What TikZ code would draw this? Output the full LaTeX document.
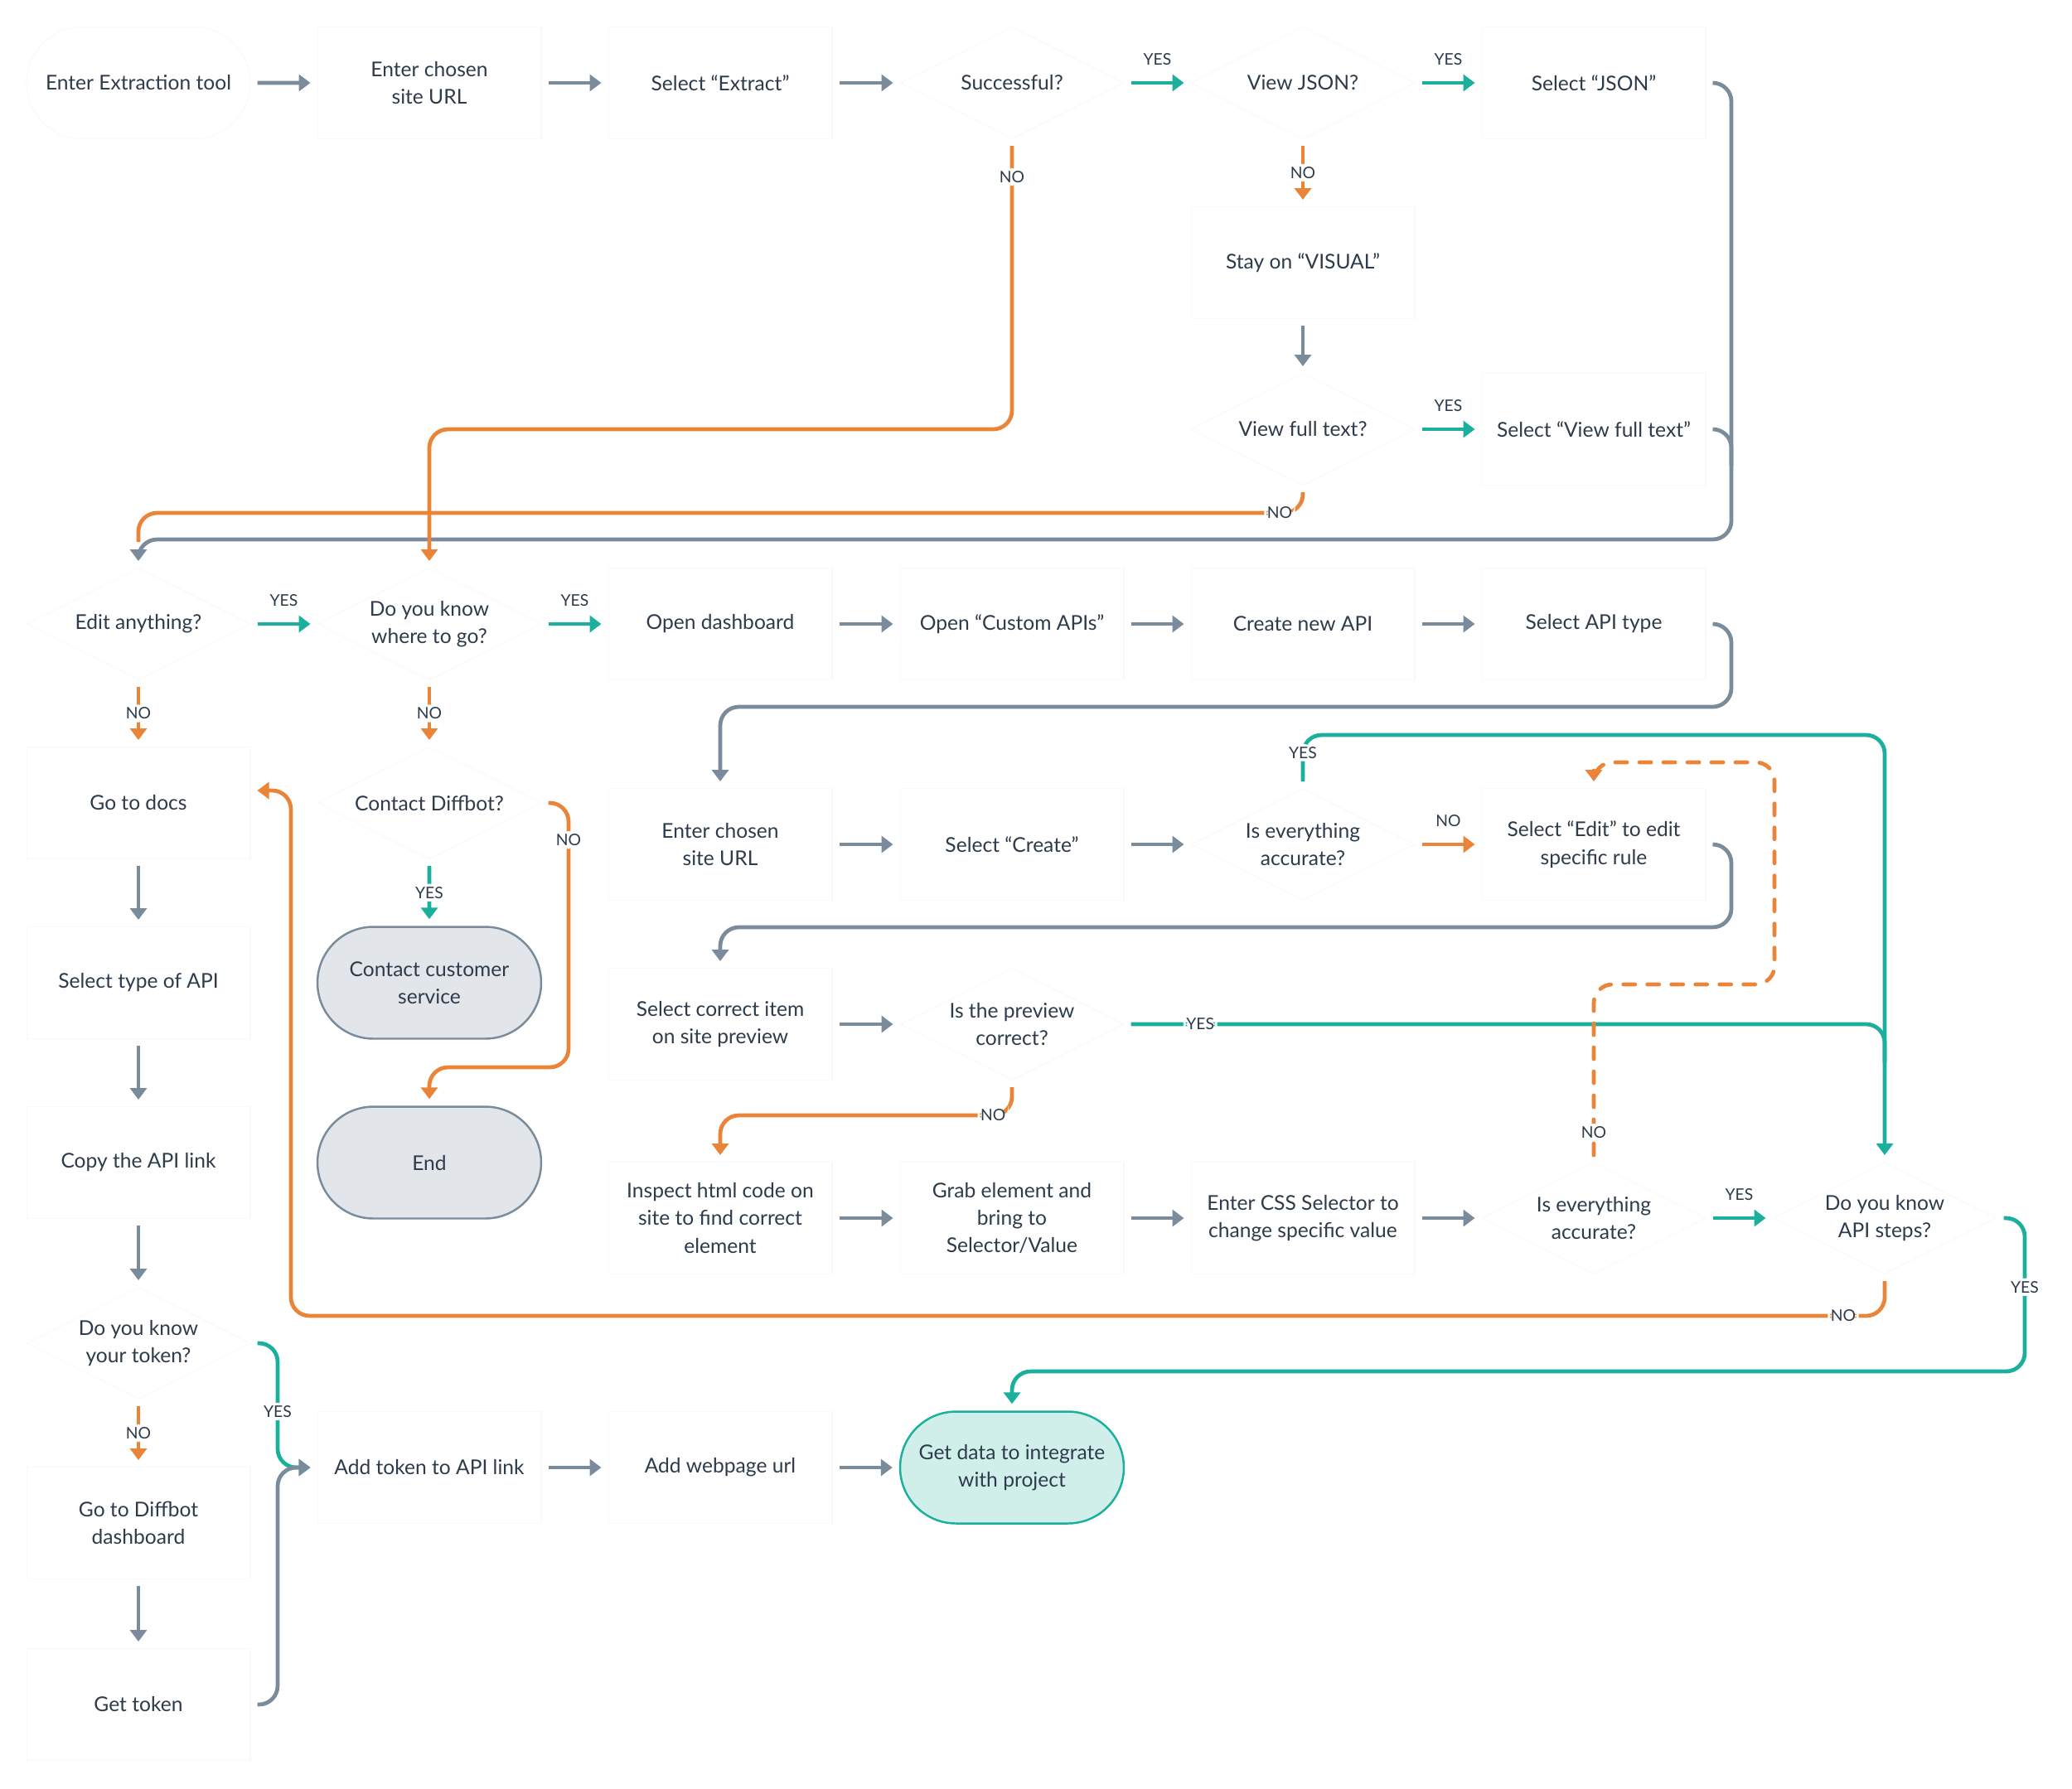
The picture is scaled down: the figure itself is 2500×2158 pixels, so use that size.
\documentclass[tikz,border=0pt]{standalone}
\usepackage{fontspec}
\setmainfont{Lato}
\usepackage{tikz}
\usetikzlibrary{positioning,arrows.meta,shapes.geometric,shapes.misc}

\definecolor{ink}{HTML}{2D3B4B}
\definecolor{slate}{HTML}{7A8B9C}
\definecolor{yesteal}{HTML}{1BAF9E}
\definecolor{noorange}{HTML}{EA8439}
\definecolor{endgrey}{HTML}{E2E6EA}
\definecolor{datafill}{HTML}{D0EEEA}
\definecolor{faint}{HTML}{F8F9FA}

\begin{document}
\begin{tikzpicture}[
    x=0.02cm, y=-0.02cm,
    >={Triangle[length=0.28cm,width=0.4cm]},
    every node/.style={text=ink},
    txt/.style={font=\fontsize{14}{19}\selectfont, align=center},
    box/.style={txt, rectangle, draw=faint, line width=0.6pt, fill=white, minimum width=5.4cm, minimum height=2.7cm, inner sep=0pt},
    ask/.style={txt, diamond, aspect=2, draw=faint, line width=0.6pt, fill=white, minimum width=5.4cm, minimum height=2.7cm, inner sep=0pt},
    term/.style={txt, rounded rectangle, draw=faint, line width=0.6pt, fill=white, minimum width=5.4cm, minimum height=2.7cm, inner sep=0pt},
    termgrey/.style={term, draw=slate, fill=endgrey, line width=1.4pt},
    termteal/.style={term, draw=yesteal, fill=datafill, line width=1.4pt},
    flow/.style={->, draw=slate, line width=2.7pt, shorten <=0.16cm, shorten >=0.16cm, rounded corners=0.45cm},
    yes/.style={flow, draw=yesteal},
    no/.style={flow, draw=noorange},
    lbl/.style={font=\fontsize{11}{12}\selectfont, fill=white, inner sep=2pt}
]
% Column positions (px of the sheet)
\def\colA{167}
\def\colB{518}
\def\colC{869}
\def\colD{1221}
\def\colE{1572}
\def\colF{1923}
\def\colG{2274}
\def\rail{2089}

\fill[white] (0,0) rectangle (2500,2158);
\useasboundingbox (0,0) rectangle (2500,2158);

% === Row 1: extraction ===
\node[term] (start) at (\colA,100) {Enter Extraction tool};
\node[box] (url1) at (\colB,100) {Enter chosen\\site URL};
\node[box] (extract) at (\colC,100) {Select ``Extract''};
\node[ask] (success) at (\colD,100) {Successful?};
\node[ask] (json) at (\colE,100) {View JSON?};
\node[box] (seljson) at (\colF,100) {Select ``JSON''};
\node[box] (visual) at (\colE,317) {Stay on ``VISUAL''};
\node[ask] (fulltext) at (\colE,518) {View full text?};
\node[box] (selfull) at (\colF,518) {Select ``View full text''};

% === Row 2: edit / dashboard ===
\node[ask] (edit) at (\colA,753) {Edit anything?};
\node[ask] (where) at (\colB,753) {Do you know\\where to go?};
\node[box] (dash) at (\colC,753) {Open dashboard};
\node[box] (capis) at (\colD,753) {Open ``Custom APIs''};
\node[box] (newapi) at (\colE,753) {Create new API};
\node[box] (apitype) at (\colF,753) {Select API type};

% === Left column: docs and token ===
\node[box] (docs) at (\colA,969) {Go to docs};
\node[box] (seltype) at (\colA,1186) {Select type of API};
\node[box] (copy) at (\colA,1403) {Copy the API link};
\node[ask] (token) at (\colA,1621) {Do you know\\your token?};
\node[box] (diffdash) at (\colA,1838) {Go to Diffbot\\dashboard};
\node[box] (gettoken) at (\colA,2057) {Get token};

% === Middle column: contact ===
\node[ask] (contact) at (\colB,969) {Contact Diffbot?};
\node[termgrey] (service) at (\colB,1186) {Contact customer\\service};
\node[termgrey] (theend) at (\colB,1403) {End};

% === Custom API rows ===
\node[box] (url2) at (\colC,1019) {Enter chosen\\site URL};
\node[box] (create) at (\colD,1019) {Select ``Create''};
\node[ask] (acc1) at (\colE,1019) {Is everything\\accurate?};
\node[box] (editrule) at (\colF,1019) {Select ``Edit'' to edit\\specific rule};

\node[box] (pick) at (\colC,1236) {Select correct item\\on site preview};
\node[ask] (preview) at (\colD,1236) {Is the preview\\correct?};

\node[box] (inspect) at (\colC,1470) {Inspect html code on\\site to find correct\\element};
\node[box] (grab) at (\colD,1470) {Grab element and\\bring to\\Selector/Value};
\node[box] (css) at (\colE,1470) {Enter CSS Selector to\\change specific value};
\node[ask] (acc2) at (\colF,1470) {Is everything\\accurate?};
\node[ask] (steps) at (\colG,1470) {Do you know\\API steps?};

% === Bottom row ===
\node[box] (addtoken) at (\colB,1771) {Add token to API link};
\node[box] (addurl) at (\colC,1771) {Add webpage url};
\node[termteal] (getdata) at (\colD,1771) {Get data to integrate\\with project};

% Row 1 connectors
\draw[flow] (start) -- (url1);
\draw[flow] (url1) -- (extract);
\draw[flow] (extract) -- (success);
\draw[yes] (success) -- node[lbl, yshift=0.56cm] {YES} (json);
\draw[yes] (json) -- node[lbl, yshift=0.56cm] {YES} (seljson);
\draw[no] (json) -- node[lbl] {NO} (visual);
\draw[flow] (visual) -- (fulltext);
\draw[yes] (fulltext) -- node[lbl, yshift=0.56cm] {YES} (selfull);

% Back to "Edit anything?"
\draw[flow] (seljson.east) -- (\rail,100) -- (\rail,651) -| (edit.north);
\draw[flow, -] (selfull.east) -- (\rail,518) -- (\rail,570);
\draw[no, -] (fulltext.south) -- (\colE,619) -- node[lbl, pos=0.02] {NO} (\colA,619) -- (\colA,662);
\draw[no] (success.south) -- node[lbl, pos=0.13] {NO} (\colD,518) -| (where.north);

% Row 2 connectors
\draw[yes] (edit) -- node[lbl, yshift=0.56cm] {YES} (where);
\draw[yes] (where) -- node[lbl, yshift=0.56cm] {YES} (dash);
\draw[flow] (dash) -- (capis);
\draw[flow] (capis) -- (newapi);
\draw[flow] (newapi) -- (apitype);
\draw[flow] (apitype.east) -- (\rail,753) -- (\rail,853) -| (url2.north);
\draw[no] (edit) -- node[lbl] {NO} (docs);
\draw[no] (where) -- node[lbl] {NO} (contact);

% Contact branch
\draw[yes] (contact) -- node[lbl] {YES} (service);
\draw[no] (contact.east) -- (686,969) -- node[lbl, pos=0.14] {NO} (686,1288) -| (theend.north);

% Left column
\draw[flow] (docs) -- (seltype);
\draw[flow] (seltype) -- (copy);
\draw[flow] (copy) -- (token);
\draw[no] (token) -- node[lbl] {NO} (diffdash);
\draw[flow] (diffdash) -- (gettoken);
\draw[yes] (token.east) -- (335,1621) -- node[lbl, pos=0.55] {YES} (335,1771) -- (addtoken.west);
\draw[flow] (gettoken.east) -- (335,2057) -- (335,1771) -- (addtoken.west);

% Custom API rows
\draw[flow] (url2) -- (create);
\draw[flow] (create) -- (acc1);
\draw[no] (acc1) -- node[lbl, yshift=0.56cm] {NO} (editrule);
\draw[yes] (acc1.north) -- node[lbl, pos=0.67] {YES} (\colE,887) -| (steps.north);
\draw[flow] (editrule.east) -- (\rail,1019) -- (\rail,1119) -| (pick.north);

\draw[flow] (pick) -- (preview);
\draw[yes, -] (preview.east) -- node[lbl, pos=0.1] {YES} (\colG,1236) -- (\colG,1290);
\draw[no] (preview.south) -- (\colD,1346) -- node[lbl, pos=0.065] {NO} (\colC,1346) -- (inspect.north);

\draw[flow] (inspect) -- (grab);
\draw[flow] (grab) -- (css);
\draw[flow] (css) -- (acc2);
\draw[yes] (acc2) -- node[lbl, yshift=0.56cm] {YES} (steps);
\draw[no, dash pattern=on 0.28cm off 0.3cm, line cap=round] (acc2.north) -- node[lbl, pos=0.165] {NO} (\colF,1188) -- (2141,1188) -- (2141,920) -- (\colF,920) -- (editrule.north);
\draw[no] (steps.south) -- (\colG,1588) -- node[lbl, pos=0.026] {NO} (351,1588) -- (351,954) -- ([yshift=0.3cm]docs.east);
\draw[yes] (steps.east) -- (2443,1470) -- node[lbl, pos=0.45] {YES} (2443,1655) -| (getdata.north);

% Bottom row
\draw[flow] (addtoken) -- (addurl);
\draw[flow] (addurl) -- (getdata);

\end{tikzpicture}
\end{document}
